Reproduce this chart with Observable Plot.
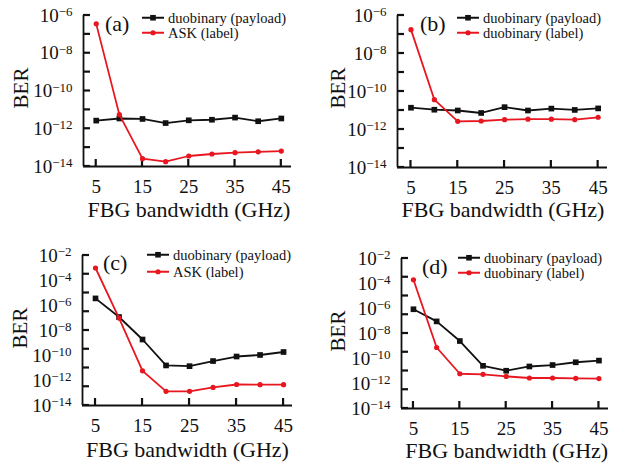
<!DOCTYPE html>
<html><head><meta charset="utf-8">
<script src="https://cdn.jsdelivr.net/npm/d3@7"></script>
<script src="https://cdn.jsdelivr.net/npm/@observablehq/plot@0.6"></script>
<style>
body{margin:0;background:#fff;}
#root{position:relative;width:619px;height:463px;overflow:hidden;font-family:"Liberation Serif",serif;color:#111;background:#fff;}
.panel{position:absolute;}
.ov{position:absolute;white-space:nowrap;line-height:1;}
.row{position:absolute;white-space:nowrap;line-height:1;display:flex;align-items:center;font-size:14.5px;}
.row svg{margin-right:4px;}
</style></head><body><div id="root"></div>
<script>
// ---- data (BER vs FBG bandwidth) ----
const bandwidth = [5, 10, 15, 20, 25, 30, 35, 40, 45];
const xTickValues = [5, 15, 25, 35, 45];

const aPayload = [2.7e-12, 3.5e-12, 3.3e-12, 2.0e-12, 2.8e-12, 3.0e-12, 3.9e-12, 2.5e-12, 3.5e-12];
const aLabel   = [3.6e-7, 5.6e-12, 2.6e-14, 1.8e-14, 3.6e-14, 4.6e-14, 5.4e-14, 6.0e-14, 6.6e-14];

const bPayload = [1.4e-11, 1.1e-11, 1.0e-11, 7.4e-12, 1.5e-11, 1.0e-11, 1.26e-11, 1.07e-11, 1.29e-11];
const bLabel   = [1.8e-7, 3.7e-11, 2.7e-12, 2.8e-12, 3.3e-12, 3.5e-12, 3.5e-12, 3.3e-12, 4.4e-12];

const cPayload = [3.7e-6, 1.2e-7, 1.9e-9, 1.6e-11, 1.4e-11, 3.6e-11, 8.3e-11, 1.1e-10, 1.9e-10];
const cLabel   = [1.0e-3, 9.8e-8, 5.9e-12, 1.35e-13, 1.35e-13, 2.8e-13, 4.8e-13, 4.6e-13, 4.6e-13];

const dPayload = [8.7e-7, 9.3e-8, 2.5e-9, 2.6e-11, 1.05e-11, 2.3e-11, 3.0e-11, 5.0e-11, 6.8e-11];
const dLabel   = [2.0e-4, 7.6e-10, 6.0e-12, 5.4e-12, 3.7e-12, 2.75e-12, 2.75e-12, 2.6e-12, 2.5e-12];

const ticksAB_marks  = [1e-6, 1e-7, 1e-8, 1e-9, 1e-10, 1e-11, 1e-12, 1e-13, 1e-14];
const ticksAB_labels = [1e-6, 1e-8, 1e-10, 1e-12, 1e-14];
const ticksCD_marks  = [-2, -3.5, -5, -6.5, -8, -9.5, -11, -12.5, -14].map(e => Math.pow(10, e));
const ticksCD_labels = [1e-2, 1e-4, 1e-6, 1e-8, 1e-10, 1e-12, 1e-14];

const xTitle = "FBG bandwidth (GHz)";
const yTitle = "BER";
const payloadName = "duobinary (payload)";
const labelNamesASK = "ASK (label)";
const labelNamesDuo = "duobinary (label)";

// ---- layout ----
const BLACK = "#111111", RED = "#e8161f";
const TICK = 7;      // tick length in px
const TICKW = 2.2;   // tick thickness in px
const panels = [
  {tag:"(a)", payload:aPayload, label:aLabel, labelName:labelNamesASK, yTop:1e-6, tickVals:ticksAB_marks, labelVals:ticksAB_labels,
   left:0, top:0, width:310, height:232, ml:83, mr:19, mt:15, mb:66, xDom:[2.25,47.2],
   tagPos:[105,24], legPos:[142,18,33], xt:[189,210], yt:[20.5,88]},
  {tag:"(b)", payload:bPayload, label:bLabel, labelName:labelNamesDuo, yTop:1e-6, tickVals:ticksAB_marks, labelVals:ticksAB_labels,
   left:310, top:0, width:309, height:232, ml:87, mr:12, mt:15, mb:65, xDom:[2.12,47.0],
   tagPos:[420,24], legPos:[457,18,33], xt:[503,210], yt:[338,88]},
  {tag:"(c)", payload:cPayload, label:cLabel, labelName:labelNamesASK, yTop:1e-2, tickVals:ticksCD_marks, labelVals:ticksCD_labels,
   left:0, top:232, width:310, height:231, ml:82, mr:18, mt:23, mb:58, xDom:[2.23,46.9],
   tagPos:[103,263], legPos:[147,255,272], xt:[187.5,450], yt:[20,328]},
  {tag:"(d)", payload:dPayload, label:dLabel, labelName:labelNamesDuo, yTop:1e-2, tickVals:ticksCD_marks, labelVals:ticksCD_labels,
   left:310, top:232, width:309, height:231, ml:91, mr:11, mt:26, mb:55, xDom:[2.42,47.06],
   tagPos:[422,267], legPos:[458,258,273], xt:[506.7,451], yt:[338,331]}
];

const root = document.getElementById("root");
const fmt = d => "10^" + Math.round(Math.log10(d));
const NS = "http://www.w3.org/2000/svg";

function swatch(color, sym) {
  const s = document.createElementNS(NS, "svg");
  s.setAttribute("width", 22); s.setAttribute("height", 10);
  const l = document.createElementNS(NS, "line");
  l.setAttribute("x1", 0); l.setAttribute("x2", 22); l.setAttribute("y1", 5); l.setAttribute("y2", 5);
  l.setAttribute("stroke", color); l.setAttribute("stroke-width", 1.8);
  s.appendChild(l);
  let m;
  if (sym === "square") {
    m = document.createElementNS(NS, "rect");
    m.setAttribute("x", 8.2); m.setAttribute("y", 2.2); m.setAttribute("width", 5.6); m.setAttribute("height", 5.6);
  } else {
    m = document.createElementNS(NS, "circle");
    m.setAttribute("cx", 11); m.setAttribute("cy", 5); m.setAttribute("r", 2.6);
  }
  m.setAttribute("fill", color);
  s.appendChild(m);
  return s;
}

function addDiv(cls, text, x, y, style, transform) {
  const d = document.createElement("div");
  d.className = cls;
  d.textContent = text;
  d.style.left = x + "px"; d.style.top = y + "px";
  Object.assign(d.style, style || {});
  d.style.transform = transform || "translate(0,-50%)";
  root.appendChild(d);
  return d;
}

for (const p of panels) {
  const payloadData = bandwidth.map((x, i) => ({x, y: p.payload[i]}));
  const labelData = bandwidth.map((x, i) => ({x, y: p.label[i]}));
  const innerW = p.width - p.ml - p.mr;
  const innerH = p.height - p.mt - p.mb;
  const x0 = p.xDom[0];
  const xPerPx = (p.xDom[1] - x0) / innerW;
  const decPerPx = (Math.log10(p.yTop) + 14) / innerH;
  // inward ticks as small filled rectangles (pixel sizes converted to data units via scale extents)
  const yTickRects = p.tickVals.map(v => ({
    x1: x0, x2: x0 + TICK * xPerPx,
    y1: v / Math.pow(10, (TICKW / 2) * decPerPx), y2: v * Math.pow(10, (TICKW / 2) * decPerPx)
  }));
  const xTickRects = xTickValues.map(v => ({
    x1: v - (TICKW / 2) * xPerPx, x2: v + (TICKW / 2) * xPerPx,
    y1: 1e-14, y2: 1e-14 * Math.pow(10, TICK * decPerPx)
  }));

  const svg = Plot.plot({
    width: p.width, height: p.height,
    marginLeft: p.ml, marginRight: p.mr, marginTop: p.mt, marginBottom: p.mb,
    style: {fontFamily: '"Liberation Serif", serif', fontSize: "19px", color: BLACK, background: "transparent", overflow: "visible"},
    x: {type: "linear", domain: p.xDom},
    y: {type: "log", domain: [1e-14, p.yTop]},
    marks: [
      Plot.axisX({ticks: xTickValues, tickSize: 0, tickPadding: 13, tickFormat: d => String(d), label: null, fontSize: 19}),
      Plot.axisY({ticks: p.labelVals, tickSize: 0, tickPadding: 11, tickFormat: fmt, label: null, fontSize: 19}),
      Plot.rect(yTickRects, {x1: "x1", x2: "x2", y1: "y1", y2: "y2", fill: BLACK, inset: 0}),
      Plot.rect(xTickRects, {x1: "x1", x2: "x2", y1: "y1", y2: "y2", fill: BLACK, inset: 0}),
      Plot.ruleX([x0], {stroke: BLACK, strokeWidth: 1.8}),
      Plot.ruleY([1e-14], {stroke: BLACK, strokeWidth: 1.8}),
      Plot.line(payloadData, {x: "x", y: "y", stroke: BLACK, strokeWidth: 1.8}),
      Plot.dot(payloadData, {x: "x", y: "y", symbol: "square", r: 3.2, fill: BLACK, stroke: "none"}),
      Plot.line(labelData, {x: "x", y: "y", stroke: RED, strokeWidth: 1.8}),
      Plot.dot(labelData, {x: "x", y: "y", symbol: "circle", r: 2.6, fill: RED, stroke: "none"})
    ]
  });
  svg.querySelectorAll("text").forEach(t => {
    const m = /^10\^(-?\d+)$/.exec(t.textContent);
    if (!m) return;
    t.textContent = "10";
    const s = document.createElementNS(NS, "tspan");
    s.setAttribute("dy", "-0.42em");
    s.setAttribute("font-size", "13px");
    s.textContent = m[1].replace("-", "\u2212");
    t.appendChild(s);
  });
  const wrap = document.createElement("div");
  wrap.className = "panel";
  wrap.style.left = p.left + "px"; wrap.style.top = p.top + "px";
  wrap.appendChild(svg);
  root.appendChild(wrap);

  // axis titles
  addDiv("ov", xTitle, p.xt[0], p.xt[1], {fontSize: "22px"}, "translate(-50%,-50%)");
  addDiv("ov", yTitle, p.yt[0], p.yt[1], {fontSize: "21px"}, "translate(-50%,-50%) rotate(-90deg)");
  // panel tag
  addDiv("ov", p.tag, p.tagPos[0], p.tagPos[1], {fontSize: "22px"});
  // legend
  const [sx, y1, y2] = p.legPos;
  const r1 = addDiv("row", "", sx, y1);
  r1.appendChild(swatch(BLACK, "square"));
  r1.appendChild(document.createTextNode(payloadName));
  const r2 = addDiv("row", "", sx, y2);
  r2.appendChild(swatch(RED, "circle"));
  r2.appendChild(document.createTextNode(p.labelName));
}
</script></body></html>
